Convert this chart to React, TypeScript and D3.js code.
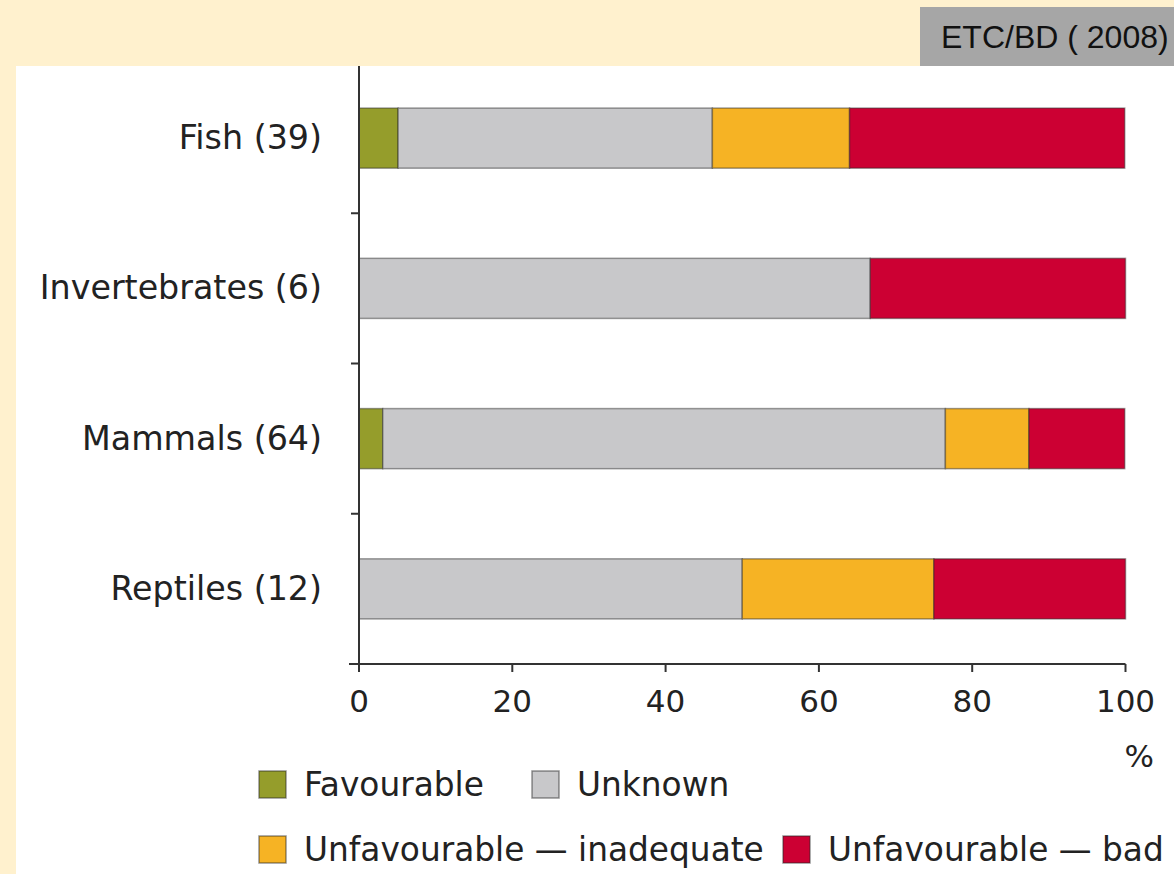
import React from "react";
import * as d3 from "d3";

// Conservation status of species groups (share of assessments, %)
const categories = ["Fish (39)", "Invertebrates (6)", "Mammals (64)", "Reptiles (12)"];
const statusKeys = ["favourable", "unknown", "inadequate", "bad"];
const statusLabels = ["Favourable", "Unknown", "Unfavourable \u2014 inadequate", "Unfavourable \u2014 bad"];
const statusColors = ["#959d2b", "#c8c8ca", "#f6b324", "#cc0033"];

const favourable = [5.1, 0, 3.1, 0];
const unknown = [41.0, 66.7, 73.4, 50.0];
const inadequate = [17.9, 0, 10.9, 25.0];
const bad = [35.9, 33.3, 12.5, 25.0];

const xTicks = [0, 20, 40, 60, 80, 100];
const sourceLabel = "ETC/BD ( 2008)";
const unitLabel = "%";

const W = 1174;
const H = 874;
const FONT = "'DejaVu Sans', Verdana, sans-serif";

export default function App() {
  const rows = categories.map((c, i) => ({
    category: c,
    favourable: favourable[i],
    unknown: unknown[i],
    inadequate: inadequate[i],
    bad: bad[i],
  }));
  const stacked = d3.stack<any>().keys(statusKeys)(rows);

  const x = d3.scaleLinear().domain([0, 100]).range([359, 1125.5]);
  const y = d3.scaleBand().domain(categories).range([63, 664]).paddingInner(0.6).paddingOuter(0.3);
  const band = d3.scaleBand().domain(categories).range([63, 664]);

  const axisColor = "#333";

  // legend layout: two rows, items flowing left to right
  const legendPos = [
    { x: 259, y: 771 },
    { x: 532, y: 771 },
    { x: 259, y: 836 },
    { x: 783, y: 836 },
  ];

  return (
    <svg
      width={W}
      height={H}
      style={{ position: "absolute", left: 0, top: 0, display: "block" }}
      fontFamily={FONT}
    >
      <rect x={0} y={0} width={W} height={H} fill="#fff1ce" />
      <rect x={16} y={66} width={W - 16} height={H - 66} fill="#ffffff" />

      {/* source box */}
      <rect x={920} y={7} width={254} height={59} fill="#a6a6a6" />
      <text
        x={941}
        y={48}
        fontFamily="'Liberation Sans', Arial, sans-serif"
        fontSize={32}
        fill="#111"
      >
        {sourceLabel}
      </text>

      {/* bars */}
      {stacked.map((layer, k) => (
        <g key={statusKeys[k]} fill={statusColors[k]}>
          {layer.map((d, i) =>
            d[1] - d[0] > 0 ? (
              <rect
                key={i}
                x={x(d[0])}
                y={y(categories[i])}
                width={x(d[1]) - x(d[0])}
                height={y.bandwidth()}
                stroke="rgba(40,40,40,0.45)"
                strokeWidth={1.5}
              />
            ) : null
          )}
        </g>
      ))}

      {/* y axis */}
      <line x1={359} x2={359} y1={66} y2={664} stroke={axisColor} strokeWidth={2} />
      {categories.slice(1).map((c) => (
        <line
          key={c}
          x1={351}
          x2={359}
          y1={band(c)}
          y2={band(c)}
          stroke={axisColor}
          strokeWidth={2}
        />
      ))}
      {categories.map((c) => (
        <text
          key={c}
          x={322}
          y={(y(c) as number) + y.bandwidth() / 2 + 11}
          textAnchor="end"
          fontSize={33.3}
          fill="#222"
        >
          {c}
        </text>
      ))}

      {/* x axis */}
      <line x1={349} x2={x(100)} y1={664} y2={664} stroke={axisColor} strokeWidth={2} />
      {xTicks.map((t) => (
        <g key={t}>
          <line x1={x(t)} x2={x(t)} y1={664} y2={672} stroke={axisColor} strokeWidth={2} />
          <text x={x(t)} y={712} textAnchor="middle" fontSize={31} fill="#222">
            {t}
          </text>
        </g>
      ))}
      <text x={1154} y={767} textAnchor="end" fontSize={31} fill="#222">
        {unitLabel}
      </text>

      {/* legend */}
      {statusLabels.map((label, k) => (
        <g key={label}>
          <rect
            x={legendPos[k].x}
            y={legendPos[k].y}
            width={27}
            height={27}
            fill={statusColors[k]}
            stroke="rgba(40,40,40,0.5)"
            strokeWidth={1.5}
          />
          <text x={legendPos[k].x + 45} y={legendPos[k].y + 25} fontSize={32.8} fill="#222">
            {label}
          </text>
        </g>
      ))}
    </svg>
  );
}
